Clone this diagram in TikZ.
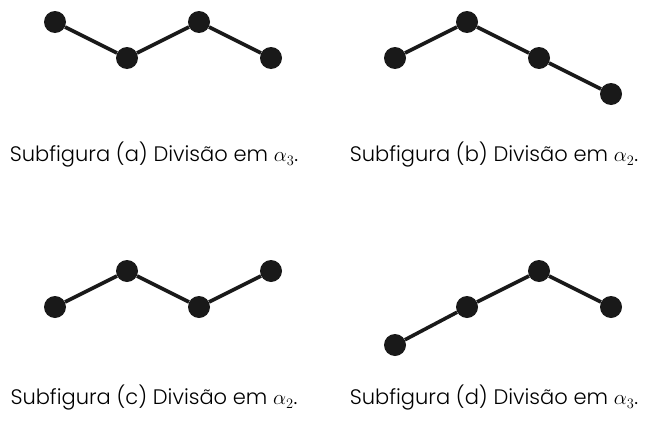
\documentclass[tikz,border=0pt]{standalone}
\usepackage{fontspec}
\setmainfont{Poppins Light}
\begin{document}
\begin{tikzpicture}[x=1pt,y=-1pt,
  dot/.style={circle,fill=black!90,inner sep=0pt,minimum size=22pt},
  edge/.style={line width=3.6pt,black!90},
  captxt/.style={font=\fontsize{21}{23}\selectfont,anchor=center}]
\useasboundingbox (0,0) rectangle (645,423);
% (a)
\node[dot] (a1) at (55,22) {};
\node[dot] (a2) at (127,58) {};
\node[dot] (a3) at (199,22) {};
\node[dot] (a4) at (271,58) {};
\draw[edge] (a1) -- (a2) -- (a3) -- (a4);
\node[captxt] (ca) at (154,155) {Subfigura (a) Divisão em $\alpha_3$.};
% (b)
\node[dot] (b1) at (395,58) {};
\node[dot] (b2) at (467,22) {};
\node[dot] (b3) at (539,58) {};
\node[dot] (b4) at (611,94) {};
\draw[edge] (b1) -- (b2) -- (b3) -- (b4);
\node[captxt] (cb) at (494,155) {Subfigura (b) Divisão em $\alpha_2$.};
% (c)
\node[dot] (c1) at (55,307) {};
\node[dot] (c2) at (127,271) {};
\node[dot] (c3) at (199,307) {};
\node[dot] (c4) at (271,271) {};
\draw[edge] (c1) -- (c2) -- (c3) -- (c4);
\node[captxt] (cc) at (154,398) {Subfigura (c) Divisão em $\alpha_2$.};
% (d)
\node[dot] (d1) at (395,345) {};
\node[dot] (d2) at (467,307) {};
\node[dot] (d3) at (539,271) {};
\node[dot] (d4) at (611,307) {};
\draw[edge] (d1) -- (d2) -- (d3) -- (d4);
\node[captxt] (cd) at (494,398) {Subfigura (d) Divisão em $\alpha_3$.};
\end{tikzpicture}
\end{document}
